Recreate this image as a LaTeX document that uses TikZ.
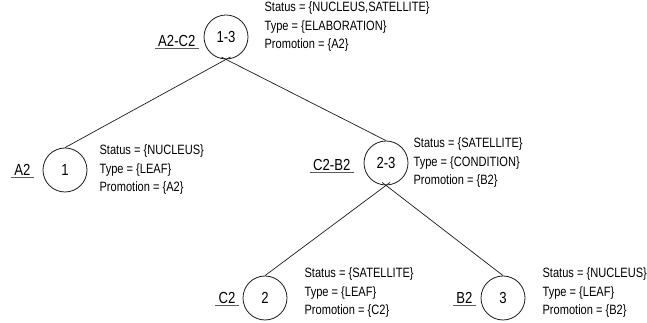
\documentclass[tikz,border=0pt]{standalone}
\usepackage{fontspec}
\setmainfont{Liberation Sans}[FakeStretch=0.82]
\usepackage{tikz}
\usetikzlibrary{positioning}
\definecolor{inkline}{HTML}{1A1A1A}
\definecolor{tagrule}{HTML}{5C5C5C}

\begin{document}
\begin{tikzpicture}[
    x=1pt,y=1pt,
    font=\fontsize{13.5}{18.5}\selectfont,
    node distance=5pt and 12pt,
    span/.style={draw=inkline,circle,line width=0.8pt,minimum size=44pt,inner sep=0pt,font=\fontsize{16}{18}\selectfont},
    tag/.style={inner xsep=3pt,inner ysep=2pt,font=\fontsize{16}{18}\selectfont},
    info/.style={align=left,inner sep=0pt,anchor=west},
    edge/.style={draw=inkline,line width=0.7pt,shorten <=-5pt},
    tagline/.style={draw=tagrule,line width=1pt}
]
    \useasboundingbox (0,0) rectangle (647,323);

    % tree nodes
    \node[span] (n13) at (226,286) {1-3};
    \node[span] (n1) at (65,153) {1};
    \node[span] (n23) at (386,160) {2-3};
    \node[span] (n2) at (265,25) {2};
    \node[span] (n3) at (503,25) {3};

    % relation labels
    \node[tag,left=5pt of n13.west,yshift=-4pt] (l13) {A2-C2};
    \node[tag,left=9pt of n1.west] (l1) {A2};
    \node[tag,left=10pt of n23.west,yshift=-2pt] (l23) {C2-B2};
    \node[tag,left=4pt of n2.west] (l2) {C2};
    \node[tag,left=5pt of n3.west] (l3) {B2};
    \foreach \t in {l13,l1,l23,l2,l3}
        \draw[tagline] (\t.south west) -- (\t.south east);

    % attributes
    \node[info,right=16pt of n13.east,yshift=10pt] (a13) {Status = \{NUCLEUS,SATELLITE\}\\Type = \{ELABORATION\}\\Promotion = \{A2\}};
    \node[info,right=12pt of n1.east] (a1) {Status = \{NUCLEUS\}\\Type = \{LEAF\}\\Promotion = \{A2\}};
    \node[info,right=5pt of n23.east] (a23) {Status = \{SATELLITE\}\\Type = \{CONDITION\}\\Promotion = \{B2\}};
    \node[info,right=17pt of n2.east,yshift=5pt] (a2) {Status = \{SATELLITE\}\\Type = \{LEAF\}\\Promotion = \{C2\}};
    \node[info,right=17pt of n3.east,yshift=5pt] (a3) {Status = \{NUCLEUS\}\\Type = \{LEAF\}\\Promotion = \{B2\}};

    \draw[edge] (n13.south) -- (n1.north);
    \draw[edge] (n13.south) -- (n23.north);
    \draw[edge] (n23.south) -- (n2.north);
    \draw[edge] (n23.south) -- (n3.north);
\end{tikzpicture}
\end{document}
